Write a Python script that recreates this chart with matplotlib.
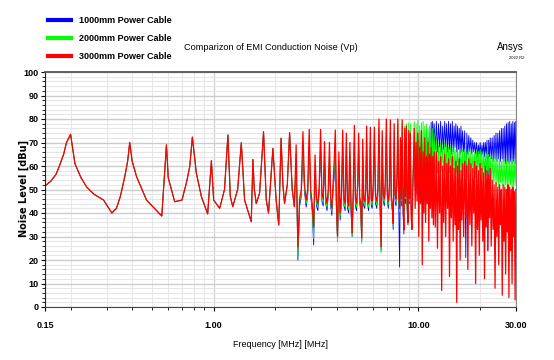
import matplotlib
matplotlib.use('Agg')
import matplotlib.pyplot as plt
from matplotlib.ticker import FixedLocator, NullFormatter, MultipleLocator

plt.rcParams['font.family'] = ['Liberation Sans', 'DejaVu Sans']

# ---- data (frequency in MHz, level in dBu) ----
# below ~2.5 MHz the three cables give the same curve
common_f = [0.15, 0.16, 0.17, 0.177, 0.185, 0.191, 0.20, 0.21, 0.225, 0.24, 0.26, 0.29, 0.31, 0.318,
            0.335, 0.35, 0.368, 0.38, 0.389, 0.40, 0.42, 0.47, 0.558, 0.588, 0.60, 0.645, 0.70, 0.736,
            0.764, 0.787, 0.823, 0.871, 0.935, 0.975, 1.00, 1.07, 1.13, 1.174, 1.206, 1.24, 1.31, 1.365,
            1.416, 1.527, 1.555, 1.58, 1.615, 1.677, 1.753, 1.807, 1.854, 1.947, 2.02, 2.08, 2.135, 2.18,
            2.22, 2.29, 2.35, 2.42, 2.48]
common_db = [51.5, 53.5, 56.5, 60.4, 65, 70, 73.5, 61, 55, 51, 48, 45.5, 41.5, 40,
             42, 47, 55.5, 62, 70, 62, 55.5, 45.5, 38.7, 69, 55, 44.8, 45.5, 52.8,
             59.7, 72.3, 57, 47, 39.6, 62.3, 45.5, 42, 50, 73.2, 47, 42.7, 50, 69.9,
             45.5, 36.3, 62.8, 50, 44, 48.5, 74.6, 45.5, 40, 67.5, 45.5, 34.9, 71.8, 52,
             44, 52, 74.2, 50, 42.7]

# above 2.5 MHz the curves ring fast: spikes, valley floors and dips on shared points
hf_f = [2.53, 2.58, 2.63, 2.68, 2.73, 2.78, 2.83, 2.88, 2.93, 2.98,
        3.03, 3.08, 3.13, 3.18, 3.23, 3.28, 3.33, 3.38, 3.43, 3.48,
        3.53, 3.58, 3.63, 3.68, 3.73, 3.78, 3.83, 3.88, 3.93, 3.98,
        4.03, 4.09, 4.15, 4.21, 4.27, 4.33, 4.39, 4.45, 4.51, 4.57,
        4.63, 4.69, 4.75, 4.81, 4.87, 4.93, 4.99, 5.05, 5.11, 5.17,
        5.23, 5.29, 5.35, 5.41, 5.47, 5.53, 5.59, 5.65, 5.71, 5.77,
        5.83, 5.89, 5.95,
        6.02, 6.10, 6.18, 6.26, 6.34, 6.42, 6.50, 6.58, 6.66, 6.74,
        6.82, 6.90, 6.98, 7.06, 7.14, 7.22, 7.30, 7.38, 7.46, 7.54,
        7.62, 7.70, 7.78, 7.86, 7.94, 8.02, 8.10, 8.18, 8.26, 8.34,
        8.42, 8.50, 8.58, 8.66, 8.74, 8.82, 8.90, 8.98, 9.06, 9.14,
        9.22, 9.30,
        9.55, 9.65, 9.75, 9.85, 9.95, 10.05, 10.15, 10.25, 10.35, 10.45,
        10.55, 10.65, 10.75, 10.85, 10.95, 11.05, 11.15, 11.25, 11.35, 11.45,
        11.55, 11.65, 11.75, 11.85, 11.95,
        12.1, 12.25, 12.4, 12.55, 12.7, 12.85, 13.0, 13.15, 13.3, 13.45,
        13.6, 13.75, 13.9, 14.05, 14.2, 14.35, 14.5, 14.65, 14.8, 14.95,
        15.1, 15.25, 15.4, 15.55, 15.7, 15.85, 16.0, 16.15, 16.3, 16.45,
        16.65, 16.85, 17.05, 17.25, 17.45, 17.65, 17.85, 18.05, 18.25, 18.45,
        18.65, 18.85, 19.05, 19.25, 19.45, 19.65, 19.85, 20.05, 20.25, 20.45,
        20.65, 20.85, 21.05, 21.25, 21.45, 21.65, 21.85, 22.05, 22.25, 22.45,
        22.7, 22.95, 23.2, 23.45, 23.7, 23.95, 24.2, 24.45, 24.7, 24.95,
        25.2, 25.45, 25.7, 25.95, 26.2, 26.45, 26.7, 26.95, 27.2, 27.45,
        27.7, 27.95, 28.2, 28.45, 28.7, 28.95, 29.2, 29.45, 29.7, 29.95]

red_db = [69, 25.6, 46, 50, 74.6, 52, 45.5, 50, 75.6, 50,
          44, 34, 64.7, 46, 44, 52, 75.6, 48, 46, 70.4,
          47, 44, 50, 70, 46, 42, 52, 62, 75.3, 44,
          30, 66, 40, 47, 75.3, 46, 44, 74, 45, 43,
          70, 44, 31.5, 50, 77.3, 46, 44, 52, 74, 47,
          44, 29.4, 71.4, 46, 45, 50, 77, 47, 44, 50,
          76.5, 46, 45,
          52, 76.5, 47, 45, 50, 80, 46, 25.6, 75, 48,
          46, 54, 80, 48, 45, 52, 79.6, 47, 44, 35.6,
          78, 48, 46, 55, 80, 47, 42, 72, 46, 79.6,
          44, 32.8, 76, 47, 77, 44, 36, 75, 46, 74,
          40, 33,
          76, 42, 70, 45, 74, 30, 68, 44, 75, 18,
          66, 40, 72, 36, 64, 44, 70, 28, 65, 42,
          68, 38, 64, 35, 66,
          34, 66, 25, 62, 40, 64, 7, 60, 36, 65,
          30, 61, 42, 63, 13, 60, 38, 64, 28, 59,
          35, 62, 2, 60, 33, 63, 20, 58, 37, 61,
          30, 62, 38, 60, 16, 63, 35, 61, 26, 59,
          40, 62, 10, 60, 33, 58, 22, 61, 37, 59,
          28, 57, 12, 60, 34, 58, 24, 56, 38, 59,
          26, 54, 33, 52, 8, 53, 30, 51, 18, 52,
          35, 50, 5, 52, 28, 51, 14, 50, 32, 52,
          4, 51, 24, 50, 10, 51, 30, 49, 3, 50]

green_db = [65, 21, 44.5, 48, 70, 50, 44, 48, 71, 48,
            42.5, 29, 61, 44.5, 42.5, 50, 71, 46.5, 44.5, 66,
            45.5, 42.5, 48, 66, 44.5, 40.5, 50, 58, 71, 42.5,
            28, 62, 38.5, 45.5, 71, 44.5, 42.5, 70, 43.5, 41.5,
            66, 42.5, 30, 48, 73, 44.5, 42.5, 50, 70, 45.5,
            42.5, 27, 67, 44.5, 43.5, 48, 73, 45.5, 42.5, 48,
            72, 44.5, 43.5,
            50, 72, 45.5, 43.5, 48, 76, 44.5, 23, 71, 46.5,
            44.5, 52, 76, 46.5, 43.5, 50, 76, 45.5, 42.5, 34,
            75, 46.5, 44.5, 54, 78, 45.5, 40.5, 72, 45, 78.5,
            43, 33, 77, 46, 78, 43, 38, 78.5, 45, 78,
            41, 36,
            79, 56, 78, 58, 79.5, 52, 77, 57, 78.5, 55,
            79, 59, 77, 54, 78, 57, 76, 55, 77, 58,
            75, 56, 76, 54, 74,
            56, 71, 57, 69, 55, 70, 58, 68, 56, 70,
            57, 69, 55, 68, 57, 69, 56, 67, 58, 68,
            55, 67, 57, 68, 56, 66, 58, 67, 55, 67,
            56, 67, 57, 66, 55, 67, 58, 66, 56, 65,
            57, 66, 55, 67, 58, 66, 56, 67, 57, 66,
            55, 66, 57, 65, 56, 66, 55, 65, 56, 64,
            53, 64, 52, 63, 53, 64, 52, 63, 51, 63,
            53, 62, 52, 63, 51, 62, 52, 63, 50, 62,
            51, 63, 52, 62, 50, 63, 51, 62, 52, 63]

blue_db = [62, 20, 43, 47, 67, 49, 42.5, 47, 68, 47,
           41, 26.4, 58, 43, 41, 49, 68, 45, 43, 63,
           44, 41, 47, 63, 43, 39, 49, 55, 68, 41,
           28, 59, 37, 44, 68, 43, 41, 67, 42, 40,
           63, 41, 30, 47, 70, 43, 41, 49, 67, 44,
           41, 28, 64, 43, 42, 47, 70, 44, 41, 47,
           69, 43, 42,
           49, 69, 44, 42, 47, 72, 43, 24, 68, 45,
           43, 51, 72, 45, 42, 49, 71, 44, 41, 33,
           70, 45, 43, 52, 71, 44, 17, 66, 43, 71,
           41, 31, 68, 44, 69, 41, 35, 68, 44, 68,
           42, 40,
           70, 50, 69, 48, 71, 52, 70, 46, 72, 51,
           69, 49, 71, 53, 70, 47, 72, 52, 71, 50,
           78.7, 66, 79, 67, 78,
           67, 79, 66, 78, 68, 79, 66, 77, 67, 79,
           68, 78, 66, 79, 67, 78, 65, 79, 66, 77,
           68, 78, 66, 77, 67, 76, 65, 77, 66, 75,
           66, 75, 21, 74, 65, 73, 66, 72, 65, 71,
           66, 70, 65, 70, 64, 69, 65, 70, 64, 69,
           65, 70, 64, 70, 65, 71, 24, 71, 64, 72,
           63, 72, 62, 73, 63, 74, 62, 74, 63, 75,
           62, 76, 63, 76, 62, 77, 61, 78, 62, 78.5,
           61, 79, 62, 78, 61, 79, 62, 78.5, 61, 79]

labels = ['1000mm Power Cable', '2000mm Power Cable', '3000mm Power Cable']
colors = ['#0000ff', '#00ff00', '#ff0000']
widths = [0.6, 0.6, 0.9]

x_major = [0.15, 1, 10, 30]
x_major_labels = ['0.15', '1.00', '10.00', '30.00']
x_minor = [0.2, 0.3, 0.4, 0.5, 0.6, 0.7, 0.8, 0.9, 2, 3, 4, 5, 6, 7, 8, 9, 20]

fig = plt.figure(figsize=(5.54, 3.6), dpi=100)
ax = fig.add_axes([45 / 554, 1 - 307 / 360, 471 / 554, 235 / 360])

for lab, col, lw, hf in zip(labels, colors, widths, [blue_db, green_db, red_db]):
    ax.plot(common_f + hf_f, common_db + hf, color=col, lw=lw, label=lab)

ax.set_xscale('log')
ax.set_xlim(0.15, 30)
ax.set_ylim(0, 100)
ax.xaxis.set_major_locator(FixedLocator(x_major))
ax.xaxis.set_minor_locator(FixedLocator(x_minor))
ax.xaxis.set_minor_formatter(NullFormatter())
ax.set_xticklabels(x_major_labels)
ax.yaxis.set_major_locator(MultipleLocator(10))
ax.yaxis.set_minor_locator(MultipleLocator(2))

ax.grid(which='major', axis='y', color='#cccccc', lw=1.0)
ax.grid(which='minor', axis='y', color='#e6e6e6', lw=0.8)
ax.grid(which='major', axis='x', color='#d0d0d0', lw=0.9)
ax.grid(which='minor', axis='x', color='#e8e8e8', lw=0.8)
ax.set_axisbelow(True)

ax.tick_params(axis='y', which='major', length=3, width=0.8, labelsize=6.5, pad=1.5)
ax.tick_params(axis='x', which='major', length=3, width=0.8, labelsize=6.5, pad=7)
ax.tick_params(which='minor', length=2, width=0.6)
for t in ax.get_xticklabels() + ax.get_yticklabels():
    t.set_fontweight('bold')

ax.spines['top'].set_color('#555555')
ax.spines['top'].set_linewidth(1.3)
ax.spines['right'].set_color('#888888')
ax.spines['left'].set_color('#222222')
ax.spines['bottom'].set_color('#444444')

ax.set_xlabel('Frequency [MHz] [MHz]', fontsize=6.5, labelpad=7)
ax.set_ylabel('Noise Level [dBu]', fontsize=7, fontweight='bold', family=['DejaVu Sans'])
ax.yaxis.set_label_coords(-0.033, 0.505)

fig.text(271 / 554, 1 - 48 / 360, 'Comparizon of EMI Conduction Noise (Vp)',
         ha='center', va='center', fontsize=6.6)
fig.text(524 / 554, 1 - 47 / 360, 'Ansys', ha='right', va='center', fontsize=7)
fig.text(524 / 554, 1 - 58 / 360, '2022 R2', ha='right', va='center', fontsize=3)

leg = fig.legend(loc='upper left', bbox_to_anchor=(48 / 554, 1 - 16 / 360), frameon=False,
                 handlelength=2.55, handletextpad=0.89, labelspacing=0.99,
                 borderpad=0, borderaxespad=0, prop={'weight': 'bold', 'size': 6.5})
for ln in leg.get_lines():
    ln.set_linewidth(3)

fig.savefig('out.png', dpi=100)
